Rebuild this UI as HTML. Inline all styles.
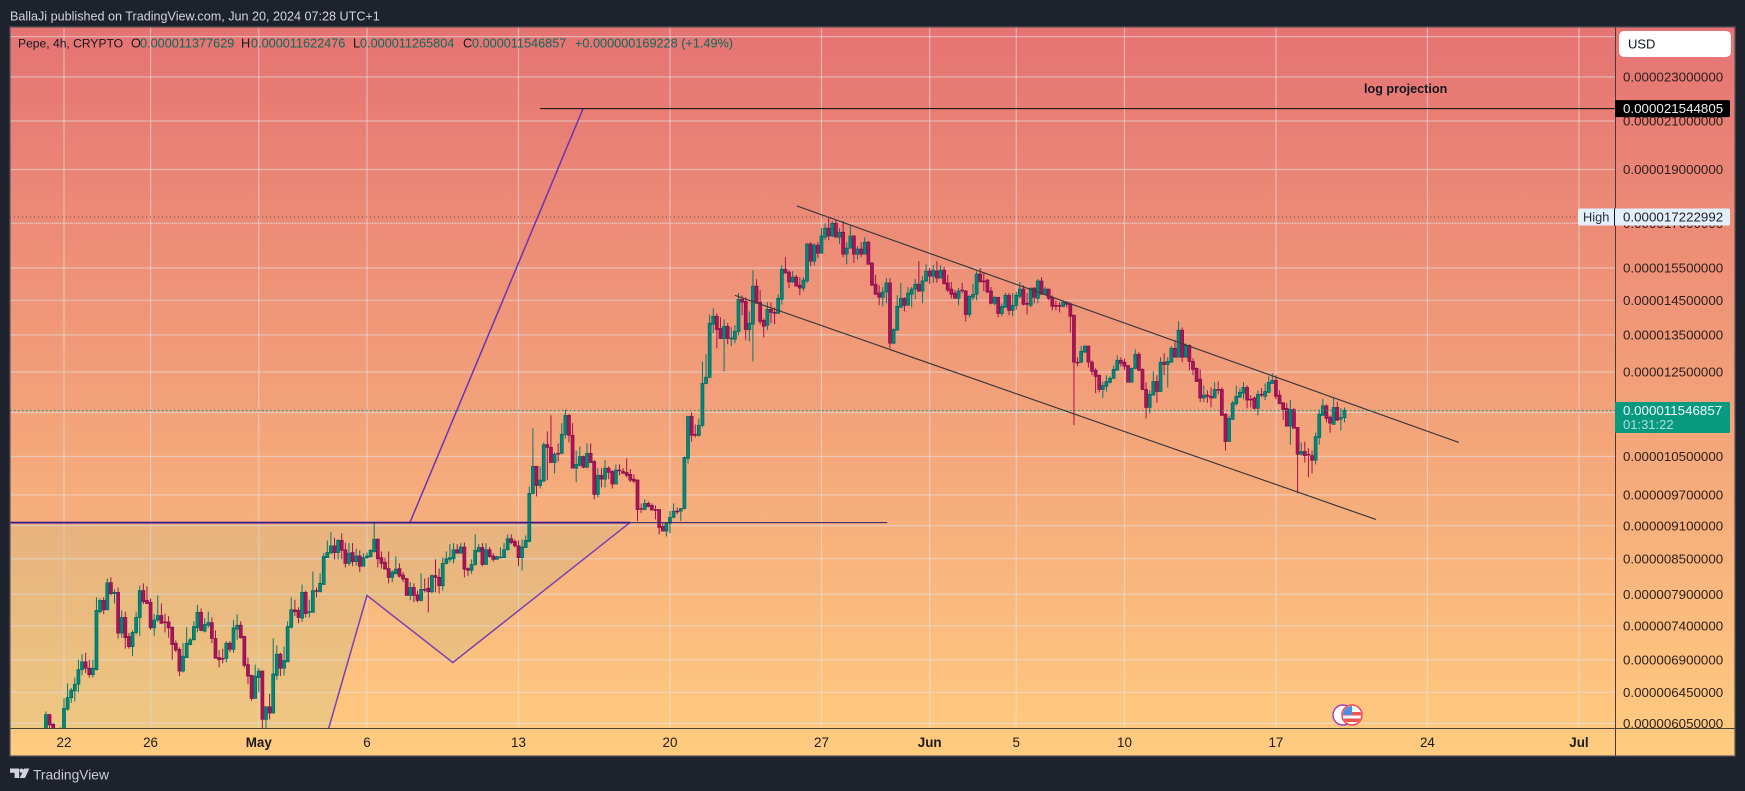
<!DOCTYPE html>
<html lang="en">
<head>
<meta charset="utf-8">
<title>Pepe 4h chart</title>
<style>
html,body{margin:0;padding:0;background:#1e222d;width:1745px;height:791px;overflow:hidden}
svg{display:block;font-family:"Liberation Sans",sans-serif}
</style>
</head>
<body>
<svg id="chart" xmlns="http://www.w3.org/2000/svg" width="1745" height="791" viewBox="0 0 1745 791">
  <defs>
    <linearGradient id="bgGrad" x1="0" y1="0" x2="0" y2="1">
      <stop offset="0" stop-color="#e57373"/>
      <stop offset="1" stop-color="#ffcc80"/>
    </linearGradient>
    <clipPath id="paneClip"><rect x="10" y="27" width="1605" height="701"/></clipPath>
    <clipPath id="flagClip"><circle cx="1352" cy="715" r="9"/></clipPath>
  </defs>
  <rect x="0" y="0" width="1745" height="791" fill="#1e222d"/>
  <text x="10" y="20.5" font-size="12.6" fill="#d1d4dc">BallaJi published on TradingView.com, Jun 20, 2024 07:28 UTC+1</text>
  <rect x="10" y="27" width="1725" height="729" fill="url(#bgGrad)"/>
  <g id="grid"></g>
  <g id="drawingsBelow" clip-path="url(#paneClip)"></g>
  <g id="candles" clip-path="url(#paneClip)"></g>
  <g id="drawingsAbove" clip-path="url(#paneClip)"></g>

  <g font-size="12.7">
    <text x="18" y="47.5" font-size="12.1" fill="#131722">Pepe, 4h, CRYPTO</text>
    <text x="131" y="47.5" fill="#131722">O</text>
    <text x="140" y="47.5" fill="#0b6b5b">0.000011377629</text>
    <text x="241" y="47.5" fill="#131722">H</text>
    <text x="251" y="47.5" fill="#0b6b5b">0.000011622476</text>
    <text x="353" y="47.5" fill="#131722">L</text>
    <text x="360" y="47.5" fill="#0b6b5b">0.000011265804</text>
    <text x="463" y="47.5" fill="#131722">C</text>
    <text x="472" y="47.5" fill="#0b6b5b">0.000011546857</text>
    <text x="575" y="47.5" fill="#0b6b5b">+0.000000169228 (+1.49%)</text>
  </g>
  <text x="1364" y="93" font-size="12.6" font-weight="700" fill="#131722">log projection</text>

  <line x1="1615.5" y1="27" x2="1615.5" y2="756" stroke="#4a3a33" stroke-width="1"/>
  <line x1="10" y1="728.5" x2="1735" y2="728.5" stroke="#4a4238" stroke-width="1"/>
  <g id="priceAxis"></g>
  <g id="timeAxis"></g>

  <g>
    <rect x="1619" y="31" width="112" height="26" rx="5" fill="#ffffff"/>
    <text x="1628" y="48.5" font-size="13" fill="#131722">USD</text>
  </g>
  <g id="priceLabels"></g>

  <g>
    <circle cx="1343" cy="715" r="10" fill="#ffffff" stroke="#9c39c0" stroke-width="1.4"/>
    <circle cx="1352" cy="715" r="10" fill="#ffffff" stroke="#f44a55" stroke-width="1.6"/>
    <g clip-path="url(#flagClip)">
      <rect x="1342" y="706" width="20" height="3" fill="#f4f4f4"/>
      <rect x="1342" y="712" width="20" height="3.5" fill="#ef5350"/>
      <rect x="1342" y="718.5" width="20" height="3.5" fill="#ef5350"/>
      <rect x="1343" y="706" width="9" height="9" fill="#4a90e2"/>
    </g>
  </g>

  <rect x="10" y="27" width="1725" height="729" fill="none" stroke="#56535a" stroke-width="1.2"/>

  <g fill="#d1d4dc">
    <path d="M10 768.5h9.2v9.5h-4.6v-5.2H10zM24.2 768.5h5.2l-4.4 9.5h-5.3z"/>
    <circle cx="21.6" cy="770.6" r="2.1"/>
  </g>
  <text x="33" y="779.5" font-size="13.8" fill="#c9ccd4">TradingView</text>
</svg>

<script>
// Candle data, in millionths of USD. First bar is bar -5 relative to Apr 22 00:00, 4h per bar.
const firstBar = -5;
const opens = [
5.90,6.16,6.04,5.90,5.72,5.90,6.23,6.38,6.47,6.56,
6.76,6.87,6.78,6.69,6.76,7.62,7.80,7.65,8.09,7.91,
7.93,7.29,7.53,7.24,7.09,7.30,7.53,7.96,7.80,7.77,
7.37,7.49,7.56,7.46,7.46,7.38,7.14,7.05,6.74,6.93,
7.12,7.19,7.37,7.61,7.32,7.41,7.45,7.21,6.93,6.92,
6.92,7.14,7.05,7.35,7.41,7.24,6.83,6.68,6.37,6.65,
6.74,6.10,6.26,6.18,6.68,6.98,6.78,6.87,7.38,7.65,
7.64,7.52,7.93,7.61,7.61,7.96,7.94,8.06,8.52,8.60,
8.73,8.61,8.83,8.66,8.42,8.61,8.45,8.55,8.37,8.52,
8.54,8.63,8.85,8.52,8.44,8.33,8.18,8.24,8.33,8.22,
8.16,7.88,8.01,7.89,7.80,7.98,8.00,7.94,8.21,8.18,
8.04,8.42,8.49,8.50,8.66,8.60,8.71,8.33,8.30,8.40,
8.63,8.70,8.40,8.66,8.55,8.49,8.52,8.52,8.66,8.86,
8.81,8.73,8.52,8.70,8.81,9.73,10.29,9.89,9.98,10.76,
10.70,10.37,10.57,10.57,10.99,11.43,10.97,10.25,10.31,10.50,
10.27,10.57,10.39,9.71,10.10,10.02,10.25,10.18,9.92,10.21,
10.18,10.16,10.12,10.02,10.00,9.43,9.41,9.53,9.49,9.41,
9.41,9.09,9.00,9.15,9.26,9.38,9.38,9.43,10.46,11.41,
10.99,10.97,11.20,12.21,12.37,13.80,14.03,13.68,13.40,13.74,
13.40,13.38,13.60,14.53,14.47,13.65,13.80,14.93,14.44,13.91,
13.77,14.23,14.14,14.11,14.53,15.46,15.37,15.06,15.21,14.96,
14.87,15.09,16.29,15.72,16.25,15.98,16.52,16.83,16.56,17.00,
16.52,16.69,15.95,16.15,16.56,15.95,16.12,15.95,16.35,15.66,
14.99,14.72,14.59,14.75,15.03,13.27,13.63,14.29,14.56,14.35,
14.68,14.84,14.99,14.78,15.09,15.40,15.24,15.40,15.18,15.43,
15.03,14.84,14.72,14.56,14.81,14.78,14.08,14.59,14.68,15.31,
15.09,15.12,14.78,14.41,14.59,14.11,14.29,14.65,14.20,14.35,
14.62,14.84,14.41,14.35,14.87,14.56,15.09,14.68,14.84,14.59,
14.35,14.35,14.32,14.44,14.38,14.06,12.76,12.76,13.03,13.19,
12.76,12.55,12.42,12.06,12.14,12.24,12.34,12.55,12.81,12.76,
12.67,12.24,12.60,12.97,12.57,12.06,11.62,11.92,12.26,12.01,
12.76,12.70,12.76,13.13,12.89,13.63,12.89,13.21,12.78,12.60,
12.32,11.85,11.92,11.89,11.85,12.06,12.06,11.46,10.83,11.34,
11.71,11.87,11.97,12.11,11.82,11.85,11.60,11.94,11.89,11.99,
12.21,12.29,11.92,11.73,11.60,11.18,11.57,11.15,10.55,10.61,
10.55,10.52,10.42,10.92,11.43,11.66,11.39,11.22,11.62,11.34,11.378];
const highs = [
6.20,6.17,6.05,5.95,6.00,6.37,6.57,6.51,6.65,6.90,
6.98,7.00,6.90,6.90,7.85,7.83,7.85,8.16,8.18,7.98,
8.01,7.64,7.62,7.29,7.33,7.61,8.04,8.08,8.03,7.83,
7.58,7.88,7.75,7.59,7.55,7.39,7.18,7.08,7.14,7.38,
7.22,7.47,7.73,7.67,7.52,7.62,7.53,7.33,7.04,7.06,
7.17,7.17,7.49,7.58,7.47,7.25,6.93,6.69,6.83,6.78,
6.75,6.27,6.43,7.21,7.11,7.00,7.09,7.47,7.85,7.81,
7.69,8.06,7.96,7.81,8.28,8.01,8.25,8.60,8.83,8.98,
8.88,8.85,8.96,8.79,8.78,8.78,8.68,8.65,8.60,8.61,
8.67,9.17,8.87,8.63,8.52,8.63,8.30,8.54,8.42,8.27,
8.17,8.10,8.08,7.96,8.25,8.16,8.18,8.23,8.49,8.33,
8.52,8.63,8.76,8.78,8.76,8.78,8.79,8.35,8.49,8.94,
8.76,8.78,8.78,8.71,8.60,8.55,8.70,8.78,8.94,8.94,
8.85,8.83,8.85,8.92,9.87,11.13,10.30,10.29,10.81,11.06,
11.43,10.59,10.79,11.25,11.57,11.46,11.25,10.63,10.72,10.52,
10.79,10.79,10.42,10.25,10.25,10.42,10.29,10.21,10.33,10.33,
10.25,10.46,10.23,10.12,10.02,9.53,9.61,9.57,9.53,9.49,
9.42,9.17,9.17,9.38,9.53,9.45,9.44,10.50,11.42,11.50,
11.22,11.36,12.78,12.97,14.08,14.26,14.11,14.00,13.94,13.83,
13.71,13.77,14.72,14.65,14.59,14.17,15.43,15.15,14.81,13.97,
14.44,14.44,14.29,14.68,15.59,15.85,15.43,15.40,15.28,15.21,
15.21,16.32,16.35,16.32,16.35,16.83,17.00,17.22,17.08,17.11,
16.83,17.08,16.35,16.94,16.59,16.22,16.35,16.52,16.39,15.69,
15.28,14.96,14.90,15.18,15.18,13.68,14.65,15.03,14.59,14.90,
14.90,15.15,15.72,15.24,15.62,15.50,15.59,15.72,15.59,15.53,
15.28,15.06,14.81,14.87,15.03,14.81,14.65,15.00,15.40,15.50,
15.37,15.15,14.90,14.62,14.59,14.41,14.72,14.72,14.72,14.75,
15.06,14.96,14.72,14.88,14.90,15.15,15.21,14.90,14.85,14.65,
14.50,14.44,14.50,14.47,14.44,14.08,12.89,13.19,13.21,13.20,
12.81,12.60,12.43,12.26,12.42,12.39,12.67,12.94,12.89,12.86,
12.68,12.62,13.10,13.03,12.60,12.24,12.04,12.52,12.42,12.89,
13.00,12.89,13.19,13.35,13.88,13.71,13.27,13.24,12.86,12.62,
12.57,12.16,12.04,12.11,12.24,12.26,12.11,11.48,11.43,11.78,
12.16,12.09,12.24,12.16,11.92,11.89,12.04,12.09,12.21,12.39,
12.47,12.42,12.04,11.75,11.73,11.80,11.60,11.16,10.81,10.83,
10.68,10.63,11.03,11.57,11.83,11.69,11.43,11.87,11.76,11.60,11.622];
const lows = [
5.87,5.96,5.87,5.78,5.66,5.87,6.21,6.31,6.33,6.45,
6.68,6.71,6.65,6.65,6.75,7.59,7.58,7.65,7.88,7.75,
7.21,7.22,7.06,7.06,6.95,7.27,7.25,7.74,7.74,7.34,
7.25,7.46,7.43,7.30,7.22,6.90,7.01,6.67,6.72,6.93,
7.11,7.18,7.30,7.32,7.30,7.37,7.14,6.92,6.79,6.85,
6.86,7.01,7.00,7.19,7.21,6.79,6.56,6.34,6.37,6.45,
5.90,5.95,6.10,6.18,6.62,6.67,6.68,6.87,7.36,7.55,
7.44,7.46,7.53,7.53,7.61,7.85,7.93,8.06,8.52,8.60,
8.49,8.49,8.49,8.35,8.38,8.37,8.38,8.27,8.37,8.50,
8.52,8.61,8.35,8.33,8.32,8.08,8.10,8.24,8.18,8.10,
7.88,7.80,7.77,7.77,7.78,7.93,7.61,7.91,7.93,7.91,
7.96,8.40,8.44,8.42,8.59,8.59,8.18,8.20,8.24,8.38,
8.61,8.37,8.40,8.52,8.45,8.49,8.52,8.52,8.65,8.76,
8.70,8.37,8.30,8.70,8.79,9.71,9.67,9.83,9.96,10.00,
10.37,10.14,10.39,10.55,10.90,10.81,10.25,9.96,10.29,10.25,
10.25,10.37,9.61,9.65,9.85,9.85,10.02,9.83,9.92,10.10,
10.14,10.06,9.96,9.94,9.19,9.34,9.40,9.45,9.40,9.22,
8.94,9.00,8.90,8.96,9.24,9.32,9.19,9.41,10.35,10.83,
10.92,10.94,11.15,12.19,12.34,13.55,13.13,13.38,12.52,13.24,
13.19,13.27,13.49,14.06,13.35,13.32,12.78,14.41,13.80,13.43,
13.63,13.83,13.80,14.11,14.38,15.34,14.87,15.03,14.93,14.65,
14.78,15.03,15.56,15.59,15.82,15.98,16.42,16.42,16.52,16.52,
16.29,15.85,15.62,16.15,15.66,15.78,15.85,15.95,15.62,14.93,
14.68,14.35,14.32,14.41,13.13,13.24,13.63,14.29,14.17,14.35,
14.29,14.53,14.75,14.41,15.06,15.00,15.03,15.03,15.18,15.00,
14.75,14.56,14.56,14.35,14.72,13.88,14.00,14.50,14.50,15.06,
14.78,14.72,14.38,14.35,14.00,14.03,14.29,14.06,14.03,14.23,
14.56,14.35,14.08,14.29,14.41,14.41,14.68,14.65,14.50,14.20,
14.20,14.14,14.29,14.29,13.57,11.20,12.65,12.73,13.00,12.62,
12.42,11.97,11.99,11.85,12.01,12.21,12.32,12.55,12.65,12.55,
12.24,12.24,12.57,12.52,12.04,11.36,11.48,11.92,11.73,12.01,
12.42,12.11,12.76,12.89,12.89,12.76,12.89,12.55,12.42,12.26,
11.75,11.75,11.73,11.62,11.85,11.94,11.43,10.63,10.83,11.32,
11.66,11.85,11.82,11.60,11.62,11.57,11.43,11.87,11.80,11.97,
12.21,11.82,11.71,11.32,11.18,10.76,11.13,9.73,10.52,10.37,
10.06,10.14,10.33,10.76,11.43,11.27,11.03,11.22,11.30,11.08,11.266];
const closes = [
6.16,6.03,5.90,5.87,5.90,6.24,6.38,6.48,6.56,6.76,
6.87,6.78,6.69,6.78,7.64,7.80,7.65,8.09,7.91,7.93,
7.29,7.53,7.22,7.09,7.30,7.53,7.96,7.78,7.75,7.37,
7.49,7.56,7.44,7.45,7.37,7.12,7.04,6.74,6.95,7.14,
7.19,7.39,7.61,7.33,7.42,7.45,7.21,6.92,6.90,6.91,
7.14,7.05,7.37,7.41,7.22,6.82,6.67,6.37,6.67,6.74,
6.10,6.26,6.18,6.70,6.98,6.78,6.89,7.39,7.65,7.62,
7.53,7.93,7.59,7.62,7.96,7.95,8.08,8.54,8.61,8.73,
8.61,8.83,8.65,8.42,8.60,8.45,8.55,8.37,8.52,8.55,
8.65,8.85,8.50,8.42,8.32,8.18,8.27,8.32,8.20,8.15,
7.88,8.01,7.88,7.80,7.98,7.97,7.94,8.21,8.18,8.04,
8.42,8.50,8.52,8.66,8.60,8.71,8.32,8.30,8.40,8.65,
8.70,8.40,8.66,8.54,8.49,8.54,8.53,8.66,8.86,8.79,
8.73,8.52,8.71,8.83,9.73,10.29,9.89,10.00,10.76,10.70,
10.37,10.55,10.56,10.99,11.43,10.97,10.25,10.33,10.50,10.27,
10.57,10.37,9.71,10.10,10.02,10.25,10.16,9.92,10.21,10.20,
10.14,10.10,10.00,9.98,9.41,9.42,9.53,9.47,9.40,9.40,
9.07,9.00,9.15,9.26,9.38,9.37,9.43,10.48,11.41,10.97,
10.98,11.20,12.21,12.37,13.83,14.03,13.65,13.40,13.74,13.40,
13.41,13.60,14.53,14.44,13.65,13.83,14.93,14.41,13.88,13.74,
14.23,14.14,14.13,14.56,15.46,15.34,15.06,15.21,14.93,14.87,
15.12,16.29,15.72,16.25,15.98,16.56,16.83,16.56,17.00,16.52,
16.69,15.95,16.15,16.56,15.95,16.12,15.95,16.35,15.62,14.96,
14.68,14.59,14.75,15.03,13.27,13.65,14.32,14.56,14.35,14.72,
14.84,14.99,14.78,15.09,15.40,15.24,15.43,15.18,15.43,15.00,
14.81,14.68,14.56,14.78,14.80,14.08,14.62,14.68,15.31,15.06,
15.08,14.75,14.41,14.59,14.11,14.32,14.65,14.20,14.35,14.65,
14.84,14.38,14.38,14.87,14.59,15.09,14.68,14.84,14.56,14.32,
14.32,14.32,14.44,14.38,14.03,12.76,12.75,13.05,13.19,12.76,
12.52,12.39,12.06,12.16,12.26,12.34,12.57,12.81,12.73,12.65,
12.24,12.60,12.97,12.55,12.06,11.62,11.94,12.26,12.01,12.76,
12.70,12.78,13.13,12.89,13.63,12.89,13.21,12.78,12.57,12.26,
11.85,11.92,11.89,11.85,12.06,12.05,11.43,10.83,11.36,11.73,
11.89,11.99,12.11,11.80,11.81,11.60,11.94,11.93,12.01,12.24,
12.29,11.89,11.71,11.57,11.18,11.57,11.13,10.55,10.61,10.52,
10.54,10.42,10.94,11.46,11.66,11.36,11.25,11.62,11.32,11.38,11.547];

// Axis ticks
const priceTicks = [25,23,21,19,17,15.5,14.5,13.5,12.5,11.5,10.5,9.7,9.1,8.5,7.9,7.4,6.9,6.45,6.05];
const timeTickLabels = ["22","26","May","6","13","20","27","Jun","5","10","17","24","Jul"];
const timeTickBars = [0,24,54,84,126,168,210,240,264,294,336,378,420];
const boldTimeLabels = ["May","Jun","Jul"];

// Key price levels
const projectionPrice = 21.544805;
const highPrice = 17.222992;
const lastPrice = 11.546857;
const countdown = "01:31:22";

// Hand-drawn tools, as [bar, price] anchors
const upperChannel = [[203.2,17.62],[386.7,10.81]];
const lowerChannel = [[186.0,14.65],[363.7,9.22]];
const harmonicLegs = [[73.2,5.96],[84.0,7.88],[107.8,6.86],[156.9,9.16]];
const projectionLeg = [[95.9,9.16],[143.9,21.544805]];
const necklinePrice = 9.16;
const necklineBars = [-20,156.9];
const supportBars = [-20,228.2];
const projectionStartBar = 132;

// Axis functions
function yOf(price){ return 77 + 484 * Math.log(23 / price); }
function xOf(bar){ return 64 + 3.607 * bar; }
function fmtPrice(price){ return (price / 1e6).toFixed(12); }

const NS = "http://www.w3.org/2000/svg";
function make(tag, parent, attrs){
  const el = document.createElementNS(NS, tag);
  for (const k in attrs) el.setAttribute(k, attrs[k]);
  parent.appendChild(el);
  return el;
}
const gridG = document.getElementById("grid");
const candleG = document.getElementById("candles");
const belowG = document.getElementById("drawingsBelow");
const aboveG = document.getElementById("drawingsAbove");
const priceAxisG = document.getElementById("priceAxis");
const timeAxisG = document.getElementById("timeAxis");
const labelsG = document.getElementById("priceLabels");
const AXIS_TEXT = "#2a1f1c";
const GRID_COLOR = "rgba(228,228,228,.55)";

// Grid and price axis
priceTicks.forEach(function(p){
  const y = yOf(p);
  const g = make("line", gridG, {x1:10, x2:1615, y1:y, y2:y, stroke:GRID_COLOR, "stroke-width":1.2});
  
  
  const t = make("text", priceAxisG, {x:1623, y:y+4.6, "font-size":13.35, fill:AXIS_TEXT});
  
  
  t.textContent = fmtPrice(p);
});

// Time axis
timeTickLabels.forEach(function(label, i){
  const x = xOf(timeTickBars[i]);
  const g = make("line", gridG, {x1:x, x2:x, y1:27, y2:728, stroke:GRID_COLOR, "stroke-width":1.2});
  
  
  const isBold = boldTimeLabels.indexOf(label) >= 0;
  const t = make("text", timeAxisG, {x:x, y:747, "font-size":13.4, "text-anchor":"middle", fill:"#1c1a18", "font-weight":isBold ? 700 : 400});
  
  
  t.textContent = label;
});

// Pattern fill and legs
const fillPts = [[10, yOf(necklinePrice)]]
  .concat([[xOf(harmonicLegs[3][0]), yOf(harmonicLegs[3][1])],
           [xOf(harmonicLegs[2][0]), yOf(harmonicLegs[2][1])],
           [xOf(harmonicLegs[1][0]), yOf(harmonicLegs[1][1])],
           [xOf(harmonicLegs[0][0]), yOf(harmonicLegs[0][1])],
           [10, yOf(harmonicLegs[0][1])]]);
const patternFill = make("polygon", belowG, {points:fillPts.map(function(p){return p.join(",");}).join(" "), fill:"rgba(130,195,150,.13)"});



function polyline(points, parent, stroke, width){
  return make("polyline", parent, {
    points: points.map(function(p){ return xOf(p[0]) + "," + yOf(p[1]); }).join(" "),
    fill:"none", stroke:stroke, "stroke-width":width
  });
}
const legs = polyline(harmonicLegs, belowG, "#7a3fb2", 1.5);


const projLeg = polyline(projectionLeg, belowG, "#6a35b0", 1.5);


const neckline = polyline([[necklineBars[0],necklinePrice],[necklineBars[1],necklinePrice]], belowG, "#7b28a8", 2);



// Candles
closes.forEach(function(c, i){
  const o = opens[i], h = highs[i], l = lows[i];
  const bar = firstBar + i;
  const x = xOf(bar);
  const up = c >= o;
  const wickCol = up ? "#00796b" : "#a3124f";
  const bodyCol = up ? "#00897b" : "#ad1457";
  const edgeCol = up ? "#00695c" : "#880e4f";
  const wick = make("line", candleG, {x1:x, x2:x, y1:yOf(h), y2:yOf(l), stroke:wickCol, "stroke-width":1});
  
  
  const top = yOf(Math.max(o, c));
  const bh = Math.max(yOf(Math.min(o, c)) - top, 0.8);
  const body = make("rect", candleG, {x:x-1.5, y:top, width:3, height:bh, fill:bodyCol, stroke:edgeCol, "stroke-width":0.7});
  
  
});

// Lines above candles
const support = polyline([[supportBars[0],necklinePrice],[supportBars[1],necklinePrice]], aboveG, "#2d1a70", 1);


const upper = polyline(upperChannel, aboveG, "#3d3a3c", 1.2);


const lower = polyline(lowerChannel, aboveG, "#3d3a3c", 1.2);


const projLine = polyline([[projectionStartBar,projectionPrice],[460,projectionPrice]], aboveG, "#0b0b0b", 1.1);



const hiLine = make("line", aboveG, {x1:10, x2:1578, y1:yOf(highPrice), y2:yOf(highPrice), stroke:"#5a5050", "stroke-width":1, "stroke-dasharray":"1 3"});


const lastLine = make("line", aboveG, {x1:10, x2:1615, y1:yOf(lastPrice), y2:yOf(lastPrice), stroke:"#089981", "stroke-width":1.2, "stroke-dasharray":"1.4 2.6"});



// Price labels
const yProj = yOf(projectionPrice);
const projBox = make("rect", labelsG, {x:1615, y:yProj-8.5, width:115, height:17, rx:1.5, fill:"#000000"});


const projText = make("text", labelsG, {x:1623, y:yProj+4.6, "font-size":13.35, fill:"#f0f0f0"});


projText.textContent = fmtPrice(projectionPrice);

const yHigh = yOf(highPrice);
const hiBox = make("rect", labelsG, {x:1578, y:yHigh-8.5, width:152, height:17, rx:2, fill:"#e3effd"});


const hiSep = make("line", labelsG, {x1:1614.5, x2:1614.5, y1:yHigh-8.5, y2:yHigh+8.5, stroke:"#131722", "stroke-width":1});


const hiName = make("text", labelsG, {x:1583, y:yHigh+4.4, "font-size":12.8, fill:"#2a2e39"});


hiName.textContent = "High";
const hiText = make("text", labelsG, {x:1623, y:yHigh+4.6, "font-size":13.35, fill:"#1c1f28"});


hiText.textContent = fmtPrice(highPrice);

const yLast = yOf(lastPrice);
const lastBox = make("rect", labelsG, {x:1615, y:yLast-8.5, width:115, height:31, rx:1.5, fill:"#089981"});


const lastText = make("text", labelsG, {x:1623, y:yLast+4.6, "font-size":13.35, fill:"#f2fbf9"});


lastText.textContent = fmtPrice(lastPrice);
const cdText = make("text", labelsG, {x:1623, y:yLast+18.6, "font-size":13, fill:"rgba(255,255,255,.68)"});


cdText.textContent = countdown;
</script>
</body>
</html>
